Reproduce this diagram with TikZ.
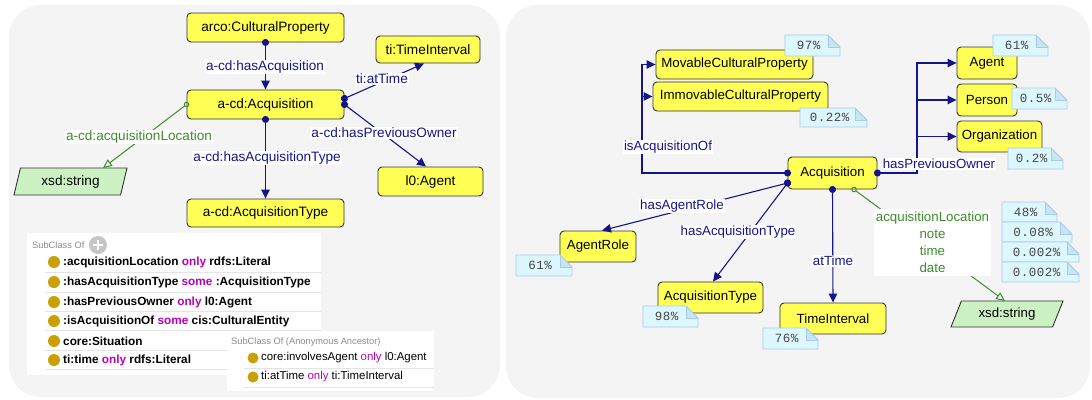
\documentclass[tikz,border=0pt]{standalone}
\usepackage{fontspec}
\setmainfont{Liberation Sans}
\newfontfamily\notemono[LetterSpace=4]{Liberation Mono}
\usetikzlibrary{arrows.meta,shapes.geometric,calc}
\definecolor{panel}{HTML}{F4F4F4}
\definecolor{clsfill}{HTML}{FFFF55}
\definecolor{clsdraw}{HTML}{333333}
\definecolor{navy}{HTML}{15158A}
\definecolor{grn}{HTML}{3F8C2F}
\definecolor{xsdfill}{HTML}{CCF2C4}
\definecolor{notefill}{HTML}{DDF7FF}
\definecolor{notefold}{HTML}{C6E6F2}
\definecolor{notedraw}{HTML}{A9C9EC}
\definecolor{notetext}{HTML}{444444}
\definecolor{gold}{HTML}{C9A000}
\definecolor{kw}{HTML}{B800B8}
\definecolor{sepline}{HTML}{E4E4E4}
\definecolor{hdr}{HTML}{8C8C8C}
\newcommand{\pnote}[6]{%
  \fill[notefill] (#2,#3) -- ({#4-12},#3) -- (#4,{#3+12}) -- (#4,#5) -- (#2,#5) -- cycle;
  \filldraw[draw=notedraw, fill=notefold, line width=0.8pt] ({#4-12},#3) -- ({#4-12},{#3+12}) -- (#4,{#3+12});
  \draw[notedraw, line width=0.8pt] (#2,#3) -- ({#4-12},#3) -- (#4,{#3+12}) -- (#4,#5) -- (#2,#5) -- cycle;
  \node[notetxt] (#1) at ({(#2+#4)/2-4},{(#3+#5)/2}) {#6};}
\begin{document}
\begin{tikzpicture}[x=1pt,y=-1pt,
  cls/.style={draw=clsdraw, fill=clsfill, rounded corners=4pt, line width=0.9pt, inner sep=0pt, text=black},
  sz/.style 2 args={minimum width=#1pt, minimum height=#2pt},
  lfont/.style={font=\fontsize{13.6}{16}\selectfont},
  rfont/.style={font=\fontsize{13.3}{16}\selectfont},
  dtype/.style={draw=clsdraw, fill=xsdfill, line width=0.9pt, shape=trapezium, trapezium stretches body, inner sep=0pt},
  edge/.style={draw=navy, line width=1.1pt},
  gedge/.style={draw=grn, line width=1pt},
  arr/.style={arrows={Circle[length=7pt]-Triangle[length=9pt,width=8.5pt]}, shorten <=-3.5pt},
  arrend/.style={arrows={-Triangle[length=9pt,width=8.5pt]}},
  dpline/.style={arrows={Circle[open,length=5.5pt]-Triangle[open,length=9pt,width=8pt]}, shorten <=-2.75pt},
  lbl/.style={fill=white, inner sep=1pt, text=navy},
  glbl/.style={fill=white, inner sep=1pt, text=grn},
  notetxt/.style={inner sep=0pt, text=notetext, font=\notemono\fontsize{12.5}{14}\selectfont},
  rowb/.style={anchor=west, inner sep=0pt, font=\fontsize{11.8}{14}\selectfont\bfseries},
  rowr/.style={anchor=west, inner sep=0pt, font=\fontsize{11.4}{14}\selectfont},
  hdrtxt/.style={anchor=west, inner sep=0pt, text=hdr, font=\fontsize{9.3}{11}\selectfont}]
\useasboundingbox (0,0) rectangle (1092,399);
\fill[white] (0,0) rectangle (1092,399);
% panels
\fill[panel, rounded corners=32pt] (9,5) rectangle (500,397);
\fill[panel, rounded corners=32pt] (506,5) rectangle (1090,398);

% ---------- left panel: subclass boxes
\fill[white] (27,233) rectangle (321,375);
\foreach \yy in {272,292,311,330,350,369} \draw[sepline, line width=0.8pt] (45,\yy) -- (321,\yy);
\node[hdrtxt] (schdr) at (32,245) {SubClass Of};
\fill[gray!45] (98,245) circle (9pt);
\draw[white, line width=2pt] (93,245) -- (103,245) (98,240) -- (98,250);
\foreach \yy in {262,282,302,321,341,360} \fill[gold] (54,\yy) circle (6pt);
\node[rowb] (sc1) at (63,262) {:acquisitionLocation {\color{kw}only} rdfs:Literal};
\node[rowb] (sc2) at (63,282) {:hasAcquisitionType {\color{kw}some} :AcquisitionType};
\node[rowb] (sc3) at (63,302) {:hasPreviousOwner {\color{kw}only} l0:Agent};
\node[rowb] (sc4) at (63,321) {:isAcquisitionOf {\color{kw}some} cis:CulturalEntity};
\node[rowb] (sc5) at (63,341) {core:Situation};
\node[rowb] (sc6) at (63,360) {ti:time {\color{kw}only} rdfs:Literal};
\fill[white] (227,331) rectangle (434,391);
\foreach \yy in {368,387} \draw[sepline, line width=0.8pt] (244,\yy) -- (434,\yy);
\node[hdrtxt] (anhdr) at (231,342) {SubClass Of (Anonymous Ancestor)};
\foreach \yy in {358,377} \fill[gold] (253,\yy) circle (5.5pt);
\node[rowr] (an1) at (261,358) {core:involvesAgent {\color{kw}only} l0:Agent};
\node[rowr] (an2) at (261,377) {ti:atTime {\color{kw}only} ti:TimeInterval};

% ---------- left panel: graph
\node[cls,sz={157}{29},lfont] (cp) at (265.5,27.5) {arco:CulturalProperty};
\node[cls,sz={104}{27},lfont] (tiL) at (428,49.5) {ti:TimeInterval};
\node[cls,sz={157}{29},lfont] (acqL) at (265.5,104.5) {a-cd:Acquisition};
\node[dtype,sz={113}{27},trapezium left angle=63,trapezium right angle=117,lfont] (xsdL) at (70.5,181.5) {xsd:string};
\node[cls,sz={105}{29},lfont] (agL) at (430.5,181.5) {l0:Agent};
\node[cls,sz={157}{28},lfont] (atL) at (265.5,213) {a-cd:AcquisitionType};

\draw[edge,arr] (cp.south) -- (acqL.north);
\draw[edge,arr] ([yshift=6pt]acqL.east) -- ([xshift=-4pt]tiL.south);
\draw[edge,arr] (acqL.east) -- ([xshift=-4.5pt]agL.north);
\draw[edge,arr] (acqL.south) -- (atL.north);
\draw[gedge,dpline] (acqL.west) -- ($(xsdL.center)+(32.5,-13.5)$);

\node[lbl,lfont] (l1) at (265,67) {a-cd:hasAcquisition};
\node[lbl,lfont] (l2) at (382,79) {ti:atTime};
\node[glbl,lfont] (l3) at (139,137) {a-cd:acquisitionLocation};
\node[lbl,lfont] (l4) at (384,133) {a-cd:hasPreviousOwner};
\node[lbl,lfont] (l5) at (267,158) {a-cd:hasAcquisitionType};

% ---------- right panel
\node[cls,sz={157}{29},rfont] (mcp) at (734.5,64.5) {MovableCulturalProperty};
\node[cls,sz={175}{29},rfont] (icp) at (740.5,96.5) {ImmovableCulturalProperty};
\node[cls,sz={89}{32},rfont] (acqR) at (832.5,173) {Acquisition};
\node[cls,sz={60}{32},rfont] (agR) at (987,63) {Agent};
\node[cls,sz={60}{32},rfont] (peR) at (987,100) {Person};
\node[cls,sz={85}{31},rfont] (orR) at (999.5,136.5) {Organization};
\node[cls,sz={76}{31},rfont] (arR) at (598,246.5) {AgentRole};
\node[cls,sz={105}{31},rfont] (atR) at (710.5,297.5) {AcquisitionType};
\node[cls,sz={106}{31},rfont] (tiR) at (833,318.5) {TimeInterval};
\node[dtype,sz={112}{26},trapezium left angle=50,trapezium right angle=130,rfont] (xsdR) at (1007,314) {xsd:string};

\coordinate (iao) at (642,0);
\coordinate (hpo) at (917,0);
\draw[edge,arr] (acqR.west) -- (acqR.west -| iao) |- (mcp.west);
\draw[edge,arrend] (iao |- icp.west) -- (icp.west);
\draw[edge,arr] (acqR.east) -- (acqR.east -| hpo) |- (agR.west);
\draw[edge,arrend] (hpo |- peR.west) -- (peR.west);
\draw[edge,arrend] (hpo |- orR.west) -- (orR.west);
\draw[edge,arr] ([yshift=-10pt]acqR.west) -- ([xshift=4pt]arR.north);
\draw[edge,arr] ([yshift=-10pt]acqR.west) -- ([xshift=2.5pt]atR.north);
\draw[edge,arr] (acqR.south) -- (tiR.north);
\draw[gedge,dpline] ([xshift=21.5pt]acqR.south) -- ($(xsdR.center)+(-2,-13)$);

\node[lbl,rfont] (r1) at (668,147) {isAcquisitionOf};
\node[lbl,rfont] (r2) at (939,164) {hasPreviousOwner};
\node[lbl,rfont] (r3) at (682,206) {hasAgentRole};
\node[lbl,rfont] (r4) at (738,232) {hasAcquisitionType};
\node[lbl,rfont] (r5) at (833,261) {atTime};
\node[glbl,align=center,minimum width=117pt,minimum height=67pt,font=\fontsize{13.3}{17}\selectfont] (r6) at (932.5,242.5) {acquisitionLocation\\note\\time\\date};

% notes
\pnote{n1}{785}{35}{840}{56}{97\%}
\pnote{n2}{800}{108}{867}{127}{0.22\%}
\pnote{n3}{993}{35}{1048}{56}{61\%}
\pnote{n4}{1012}{88}{1067}{109}{0.5\%}
\pnote{n5}{1008}{148}{1063}{169}{0.2\%}
\pnote{n6}{516}{255}{572}{276}{61\%}
\pnote{n7}{643}{306}{698}{327}{98\%}
\pnote{n8}{763}{328}{818}{349}{76\%}
\pnote{n9}{1002}{202}{1057}{222}{48\%}
\pnote{n10}{1002}{222}{1072}{242}{0.08\%}
\pnote{n11}{1002}{242}{1079}{262}{0.002\%}
\pnote{n12}{1002}{262}{1079}{282}{0.002\%}
\end{tikzpicture}
\end{document}
